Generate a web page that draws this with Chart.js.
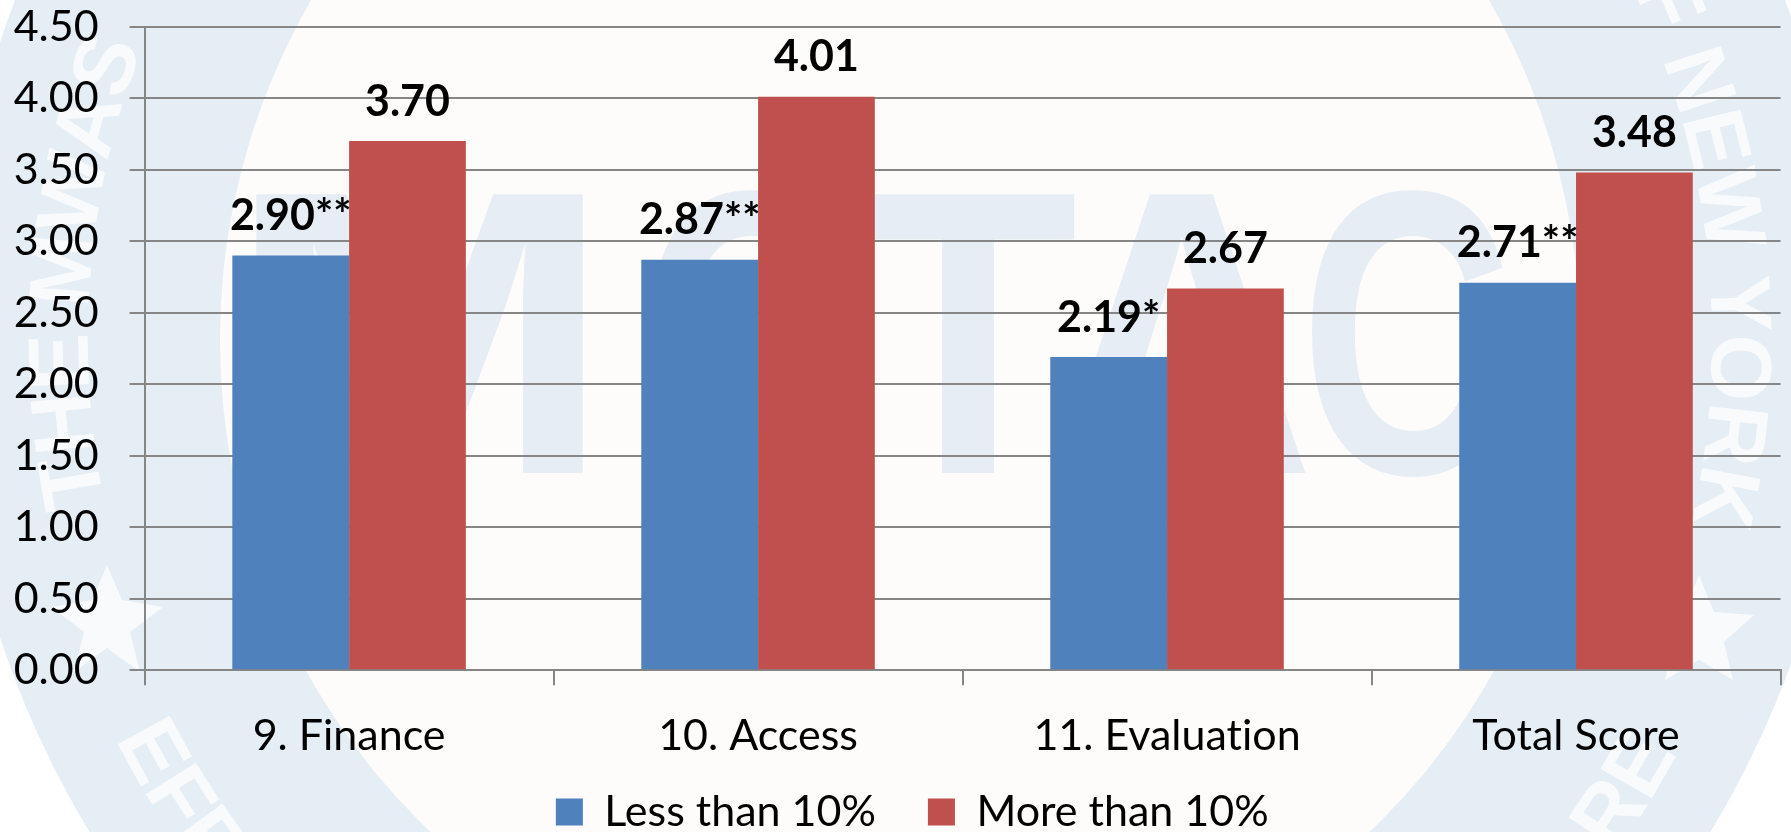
<!DOCTYPE html>
<html lang="en">

<head>
  <meta charset="UTF-8">
  <title>Scores by Share</title>
  <script src="https://cdn.jsdelivr.net/npm/chart.js"></script>
  <style>
    html, body {
      margin: 0;
      width: 1791px;
      height: 832px;
      overflow: hidden;
      background: #ffffff;
    }

    #seal, #scoreChart {
      position: absolute;
      left: 0;
      top: 0;
    }

    .ring-text {
      font-family: 'Liberation Sans', sans-serif;
      font-weight: bold;
      font-size: 86px;
      fill: #f8fafc;
    }

    .big-text {
      font-family: 'Liberation Sans', sans-serif;
      font-weight: bold;
      font-size: 405px;
      fill: #e6edf5;
    }
  </style>
</head>

<body>

  <!-- pale seal behind the chart -->
  <svg id="seal" width="1791" height="832" viewBox="0 0 1791 832">
    <defs>
      <path id="arcTop" d="M 109 523 A 812 812 0 1 1 1691 523" />
      <path id="arcBottomLeft" d="M 36 508 A 880 880 0 0 0 599 1167" />
      <path id="arcBottomRight" d="M 1201 1167 A 880 880 0 0 0 1764 508" />
    </defs>
    <circle cx="900" cy="340" r="948" fill="#e5edf5" />
    <circle cx="900" cy="340" r="680" fill="#fdfcfa" />
    <text class="big-text" x="225" y="473" textLength="389" lengthAdjust="spacingAndGlyphs">M</text>
    <text class="big-text" x="640" y="473" textLength="210" lengthAdjust="spacingAndGlyphs">C</text>
    <text class="big-text" x="858" y="473" textLength="220" lengthAdjust="spacingAndGlyphs">T</text>
    <text class="big-text" x="1048" y="473" textLength="267" lengthAdjust="spacingAndGlyphs">A</text>
    <text class="big-text" x="1300" y="473" textLength="213" lengthAdjust="spacingAndGlyphs">C</text>
    <text class="ring-text"><textPath href="#arcTop" startOffset="20">THE MWAS</textPath></text>
    <text class="ring-text" text-anchor="end"><textPath href="#arcTop" startOffset="100%">OF NEW YORK</textPath></text>
    <text class="ring-text"><textPath href="#arcBottomLeft" startOffset="245">EFF</textPath></text>
    <text class="ring-text" text-anchor="end"><textPath href="#arcBottomRight" startOffset="645">RE</textPath></text>
    <polygon fill="#f8fafc" points="107,565 122,600 163,607 130,632 140,672 107,648 74,672 84,632 51,607 92,600" />
    <polygon fill="#f8fafc" points="1699,575 1714,612 1754,615 1724,642 1733,680 1699,660 1665,680 1674,642 1644,615 1684,612" />
  </svg>

  <canvas id="scoreChart" width="1791" height="832"></canvas>

  <script>
    const categories = ['9. Finance', '10. Access', '11. Evaluation', 'Total Score'];
    const lessThan10 = [2.90, 2.87, 2.19, 2.71];
    const moreThan10 = [3.70, 4.01, 2.67, 3.48];
    const lessMarks = ['**', '**', '*', '**'];
    const moreMarks = ['', '', '', ''];
    const seriesNames = ['Less than 10%', 'More than 10%'];

    const FONT = "Lato, 'Open Sans', sans-serif";
    const AXIS_GREY = '#868686';
    const LEGEND_PAD = 52;
    const LEGEND_FONT = 43;

    // writes the value above each bar, with its significance stars
    const barLabels = {
      id: 'barLabels',
      afterDatasetsDraw(chart) {
        const ctx = chart.ctx;
        const marks = [lessMarks, moreMarks];
        ctx.save();
        ctx.font = 'bold 43px ' + FONT;
        ctx.fillStyle = '#000000';
        ctx.textAlign = 'center';
        ctx.textBaseline = 'alphabetic';
        chart.data.datasets.forEach((ds, i) => {
          chart.getDatasetMeta(i).data.forEach((bar, j) => {
            ctx.fillText(ds.data[j].toFixed(2) + marks[i][j], bar.x, bar.y - 25.5);
          });
        });
        ctx.restore();
      }
    };

    // legend sits lower and further right than the default bottom slot
    const placeLegend = {
      id: 'placeLegend',
      afterLayout(chart) {
        const legend = chart.legend;
        legend.left += 22;
        legend.right += 22;
        legend.top = 812 - LEGEND_PAD - LEGEND_FONT / 2;
        chart.scales.x.bottom = chart.height;
      },
      // Lato joins "ti" otherwise
      beforeDraw(chart) {
        chart.ctx.textRendering = 'optimizeSpeed';
      }
    };

    new Chart(document.getElementById('scoreChart'), {
      type: 'bar',
      data: {
        labels: categories,
        datasets: [{
          label: seriesNames[0],
          data: lessThan10,
          backgroundColor: '#4f81bd'
        }, {
          label: seriesNames[1],
          data: moreThan10,
          backgroundColor: '#c0504d'
        }]
      },
      options: {
        responsive: false,
        animation: false,
        categoryPercentage: 0.571,
        barPercentage: 1,
        layout: {
          autoPadding: false,
          padding: { left: 0, right: 10.5, top: 26.7, bottom: 0 }
        },
        scales: {
          x: {
            afterFit(scale) {
              scale.height = 56.8;
              scale.paddingLeft = 0;
              scale.paddingRight = 0;
            },
            grid: {
              drawOnChartArea: false,
              color: AXIS_GREY,
              lineWidth: 2,
              tickLength: 15
            },
            border: { color: AXIS_GREY, width: 2 },
            ticks: {
              color: '#000000',
              font: { family: FONT, size: 43 },
              padding: 25
            }
          },
          y: {
            min: 0,
            max: 4.5,
            afterFit(scale) {
              scale.width = 144.6;
              scale.paddingTop = 0;
              scale.paddingBottom = 0;
            },
            grid: {
              color: AXIS_GREY,
              lineWidth: 2,
              tickLength: 15
            },
            border: { color: AXIS_GREY, width: 2 },
            ticks: {
              stepSize: 0.5,
              color: '#000000',
              font: { family: FONT, size: 43 },
              padding: 31,
              callback: value => value.toFixed(2)
            }
          }
        },
        plugins: {
          tooltip: { enabled: false },
          legend: {
            position: 'bottom',
            labels: {
              color: '#000000',
              font: { family: FONT, size: LEGEND_FONT },
              boxWidth: 27,
              boxHeight: 27,
              padding: LEGEND_PAD
            }
          }
        }
      },
      plugins: [barLabels, placeLegend]
    });
  </script>

</body>

</html>
